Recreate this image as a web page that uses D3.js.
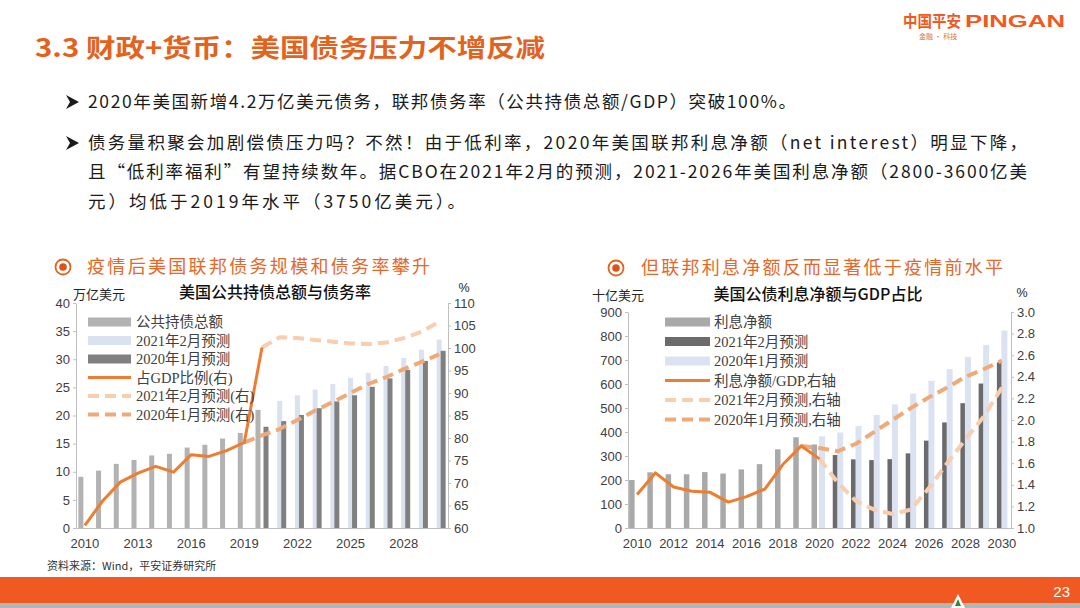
<!DOCTYPE html>
<html><head><meta charset="utf-8">
<script src="https://cdn.jsdelivr.net/npm/d3@7/dist/d3.min.js"></script>
<style>
html,body{margin:0;padding:0;background:#fff;}
svg{display:block;}
</style></head><body>
<svg id="slide" width="1080" height="608"></svg>
<script>
// ---------------- data ----------------
const years = ["2010","2011","2012","2013","2014","2015","2016","2017","2018","2019","2020",
               "2021","2022","2023","2024","2025","2026","2027","2028","2029","2030"];

// left chart: 美国公共持债总额与债务率
const debtTickYears = ["2010","2013","2016","2019","2022","2025","2028"];
const debtTicksLeft = [0,5,10,15,20,25,30,35,40];
const debtTicksRight = [60,65,70,75,80,85,90,95,100,105,110];
const debtActual  = [9.1,10.2,11.4,12.1,12.9,13.2,14.3,14.8,15.9,16.9,21.0,null,null,null,null,null,null,null,null,null,null];
const debtFeb2021 = [null,null,null,null,null,null,null,null,null,null,null,22.6,23.6,24.6,25.6,26.7,27.6,28.8,30.2,31.7,33.5];
const debtJan2020 = [null,null,null,null,null,null,null,null,null,null,18.0,19.0,20.1,21.3,22.5,23.6,25.1,26.6,28.1,29.7,31.5];
const ratioActual  = [60.6,66.0,70.2,72.2,73.7,72.4,76.3,75.9,77.2,79.0,100.1,null,null,null,null,null,null,null,null,null,null];
const ratioFeb2021 = [null,null,null,null,null,null,null,null,null,null,100.1,102.4,102.2,101.8,101.4,101.0,100.9,101.2,102.2,103.6,105.8];
const ratioJan2020 = [null,null,null,null,null,null,null,null,null,79.0,80.6,82.0,84.0,86.1,88.0,90.0,92.0,93.5,95.3,96.9,98.6];
const debtLegend = ["公共持债总额","2021年2月预测","2020年1月预测","占GDP比例(右)","2021年2月预测(右)","2020年1月预测(右)"];

// right chart: 美国公债利息净额与GDP占比
const interestTickYears = ["2010","2012","2014","2016","2018","2020","2022","2024","2026","2028","2030"];
const interestTicksLeft = [0,100,200,300,400,500,600,700,800,900];
const interestTicksRight = [1.0,1.2,1.4,1.6,1.8,2.0,2.2,2.4,2.6,2.8,3.0];
const interestActual  = [200,232,224,224,233,227,244,266,328,378,348,null,null,null,null,null,null,null,null,null,null];
const interestFeb2021 = [null,null,null,null,null,null,null,null,null,null,null,304,286,283,287,311,364,440,520,602,690];
const interestJan2020 = [null,null,null,null,null,null,null,null,null,null,382,398,425,471,515,560,613,662,713,763,823];
const shareActual  = [1.31,1.51,1.38,1.34,1.33,1.24,1.29,1.36,1.59,1.76,1.64,null,null,null,null,null,null,null,null,null,null];
const shareFeb2021 = [null,null,null,null,null,null,null,null,null,null,1.64,1.42,1.25,1.17,1.13,1.17,1.37,1.60,1.82,2.03,2.30];
const shareJan2020 = [null,null,null,null,null,null,null,null,null,1.76,1.74,1.71,1.78,1.89,2.00,2.11,2.21,2.30,2.40,2.47,2.55];
const interestLegend = ["利息净额","2021年2月预测","2020年1月预测","利息净额/GDP,右轴","2021年2月预测,右轴","2020年1月预测,右轴"];

// ---------------- slide ----------------
const svg = d3.select("#slide");
const CJK = "'Noto Sans CJK SC', sans-serif";
const SERIF = "'Liberation Serif', 'Noto Sans CJK SC', serif";
const SANS = "'Liberation Sans', Arial, sans-serif";
const ORANGE = "#e2631d";

svg.append("rect").attr("width",1080).attr("height",608).attr("fill","#fff");

// title
svg.append("text").attr("x",35).attr("y",57)
  .attr("font-family",CJK).attr("font-weight","bold").attr("font-size",25)
  .attr("fill",ORANGE).attr("textLength",510).attr("lengthAdjust","spacingAndGlyphs")
  .text("3.3 财政+货币：美国债务压力不增反减");

// logo
svg.append("text").attr("x",903).attr("y",27)
  .attr("font-family",CJK).attr("font-weight","bold").attr("font-size",16)
  .attr("fill","#f05a22").attr("textLength",58).attr("lengthAdjust","spacingAndGlyphs").text("中国平安");
svg.append("text").attr("x",965).attr("y",27)
  .attr("font-family",SANS).attr("font-weight","bold").attr("font-size",17)
  .attr("fill","#f05a22").attr("textLength",100).attr("lengthAdjust","spacingAndGlyphs").text("PINGAN");
svg.append("text").attr("x",919).attr("y",39)
  .attr("font-family",CJK).attr("font-size",7).attr("fill","#e07040").text("金融 · 科技");

// bullet text
const bullets = [
  {y:108, arrow:true, w:708, t:"2020年美国新增4.2万亿美元债务，联邦债务率（公共持债总额/GDP）突破100%。"},
  {y:149, arrow:true, w:939, t:"债务量积聚会加剧偿债压力吗？不然！由于低利率，2020年美国联邦利息净额（net interest）明显下降，"},
  {y:178, arrow:false, w:939, t:"且“低利率福利”有望持续数年。据CBO在2021年2月的预测，2021-2026年美国利息净额（2800-3600亿美"},
  {y:208, arrow:false, w:377, t:"元）均低于2019年水平（3750亿美元）。"}
];
bullets.forEach(b => {
  if (b.arrow) {
    svg.append("path")
      .attr("d",`M66,${b.y-13} L79,${b.y-6} L66,${b.y+1} L70,${b.y-6} Z`)
      .attr("fill","#1a1a1a");
  }
  svg.append("text").attr("x",88).attr("y",b.y)
    .attr("font-family",CJK).attr("font-size",17.5).attr("fill","#1a1a1a")
    .attr("textLength",b.w).attr("lengthAdjust","spacing").text(b.t);
});

// section headers
function header(cx, cy, tx, w, t) {
  svg.append("circle").attr("cx",cx).attr("cy",cy).attr("r",7.5).attr("fill","none")
    .attr("stroke",ORANGE).attr("stroke-width",1.8);
  svg.append("circle").attr("cx",cx).attr("cy",cy).attr("r",3.8).attr("fill","#e0501a");
  svg.append("text").attr("x",tx).attr("y",cy+6).attr("font-family",CJK).attr("font-size",18)
    .attr("fill","#e2692a").attr("textLength",w).attr("lengthAdjust","spacing").text(t);
}
header(63, 267, 87, 343, "疫情后美国联邦债务规模和债务率攀升");
header(616, 268, 641, 362, "但联邦利息净额反而显著低于疫情前水平");

// ---------------- chart builder ----------------
function chart(o) {
  const g = svg.append("g");
  const x = d3.scaleBand().domain(years).range(o.xr).padding(0);
  const yL = d3.scaleLinear().domain(o.ldom).range([o.yb, o.yt]);
  const yR = d3.scaleLinear().domain(o.rdom).range([o.yb, o.yt]);
  const cx = y => x(y) + x.bandwidth() / 2;

  const styleAxis = sel => {
    sel.select(".domain").attr("stroke","#bfbfbf").attr("stroke-width",1);
    sel.selectAll(".tick line").attr("stroke","#bfbfbf");
    sel.selectAll("text").attr("font-family",SANS).attr("font-size",13).attr("fill","#404040");
  };
  g.append("g").attr("transform",`translate(${o.xr[0]},0)`)
    .call(d3.axisLeft(yL).tickValues(o.lt).tickSize(3).tickPadding(3).tickSizeOuter(0)).call(styleAxis);
  g.append("g").attr("transform",`translate(${o.xr[1]},0)`)
    .call(d3.axisRight(yR).tickValues(o.rt).tickSize(3).tickPadding(3).tickSizeOuter(0)
      .tickFormat(o.rfmt)).call(styleAxis);
  g.append("g").attr("transform",`translate(0,${o.yb})`)
    .call(d3.axisBottom(x).tickValues(o.xt).tickSize(0).tickPadding(11).tickSizeOuter(0)).call(styleAxis);

  // bars
  o.bars.forEach(s => {
    const data = years.map((y,i) => ({y, v:s.values[i]})).filter(d => d.v != null);
    g.append("g").selectAll("rect").data(data).join("rect")
      .attr("x", d => cx(d.y) + s.off).attr("width", s.w)
      .attr("y", d => yL(d.v)).attr("height", d => o.yb - yL(d.v))
      .attr("fill", s.color);
  });
  // lines
  o.lines.forEach(s => {
    const data = years.map((y,i) => ({y, v:s.values[i]}));
    const line = d3.line().defined(d => d.v != null).x(d => cx(d.y)).y(d => yR(d.v));
    g.append("path").datum(data).attr("d", line).attr("fill","none")
      .attr("stroke", s.color).attr("stroke-width", s.sw)
      .attr("stroke-dasharray", s.dash || null).attr("stroke-linejoin","round");
  });

  // title, units
  g.append("text").attr("x",o.title[0]).attr("y",o.title[1]).attr("text-anchor","middle")
    .attr("font-family",CJK).attr("font-weight",500).attr("font-size",16).attr("fill","#111")
    .text(o.title[2]);
  g.append("text").attr("x",o.unitL[0]).attr("y",o.unitL[1]).attr("font-family",CJK)
    .attr("font-size",13).attr("fill","#262626").text(o.unitL[2]);
  g.append("text").attr("x",o.unitR[0]).attr("y",o.unitR[1]).attr("text-anchor","middle").attr("font-family",SANS)
    .attr("font-size",12.5).attr("fill","#262626").text("%");

  // legend
  const items = o.bars.concat(o.lines);
  o.legendOrder.forEach((idx, k) => {
    const s = items[idx];
    const ly = o.leg.y0 + k * o.leg.dy;
    if (s.sw == null) {
      g.append("rect").attr("x",o.leg.x0).attr("y",ly-4.5).attr("width",o.leg.x1-o.leg.x0).attr("height",9).attr("fill",s.color);
    } else {
      g.append("line").attr("x1",o.leg.x0).attr("x2",o.leg.x1).attr("y1",ly).attr("y2",ly)
        .attr("stroke",s.color).attr("stroke-width",s.sw).attr("stroke-dasharray",s.dash || null);
    }
    g.append("text").attr("x",o.leg.tx).attr("y",ly+5).attr("font-family",SERIF)
      .attr("font-size",14.5).attr("fill","#404040").text(o.legend[k]);
  });
}

const DASH = "11,6";
chart({
  xr:[76,448], yb:528, yt:303, ldom:[0,40], rdom:[60,110],
  lt:debtTicksLeft, rt:debtTicksRight, xt:debtTickYears, rfmt:d3.format("d"),
  bars:[
    {values:debtActual,  color:"#b2b2b2", off:-6.5, w:5},
    {values:debtFeb2021, color:"#dae2f0", off:-2.5, w:5},
    {values:debtJan2020, color:"#808080", off:1.5, w:5}
  ],
  lines:[
    {values:ratioFeb2021, color:"#f8cdb0", sw:4, dash:DASH},
    {values:ratioJan2020, color:"#efaa78", sw:4, dash:DASH},
    {values:ratioActual,  color:"#ed7d31", sw:3}
  ],
  legendOrder:[0,1,2,5,3,4],
  legend:debtLegend,
  leg:{x0:88, x1:131, tx:136, y0:322, dy:18.5},
  title:[275, 298, "美国公共持债总额与债务率"],
  unitL:[73, 299, "万亿美元"], unitR:[464, 292]
});

chart({
  xr:[628,1011], yb:528, yt:312, ldom:[0,900], rdom:[1.0,3.0],
  lt:interestTicksLeft, rt:interestTicksRight, xt:interestTickYears, rfmt:d3.format(".1f"),
  bars:[
    {values:interestActual,  color:"#a9a9a9", off:-8, w:5.5},
    {values:interestFeb2021, color:"#6b6b6b", off:-5, w:5.5},
    {values:interestJan2020, color:"#dbe3f2", off:-0.5, w:6}
  ],
  lines:[
    {values:shareFeb2021, color:"#f8cdb0", sw:4, dash:DASH},
    {values:shareJan2020, color:"#efaa78", sw:4, dash:DASH},
    {values:shareActual,  color:"#ed7d31", sw:3}
  ],
  legendOrder:[0,1,2,5,3,4],
  legend:interestLegend,
  leg:{x0:665, x1:710, tx:714, y0:322, dy:19.5},
  title:[818, 300, "美国公债利息净额与GDP占比"],
  unitL:[592, 300, "十亿美元"], unitR:[1022, 297]
});

// source
svg.append("text").attr("x",47).attr("y",570).attr("font-family",CJK).attr("font-size",11)
  .attr("fill","#333").text("资料来源：Wind，平安证券研究所");

// footer band
svg.append("rect").attr("x",0).attr("y",577).attr("width",1080).attr("height",26).attr("fill","#f05a22");
svg.append("rect").attr("x",0).attr("y",603).attr("width",1080).attr("height",5).attr("fill","#b5b5b5");
svg.append("path").attr("d","M958,594 L965,608 L951,608 Z").attr("fill","#ffffff");
svg.append("path").attr("d","M958,599 L961,606 L955,606 Z").attr("fill","#2e8b3a");
svg.append("text").attr("x",1070).attr("y",597).attr("text-anchor","end").attr("font-family",SANS)
  .attr("font-size",15).attr("fill","#fff").text("23");
</script>
</body></html>
